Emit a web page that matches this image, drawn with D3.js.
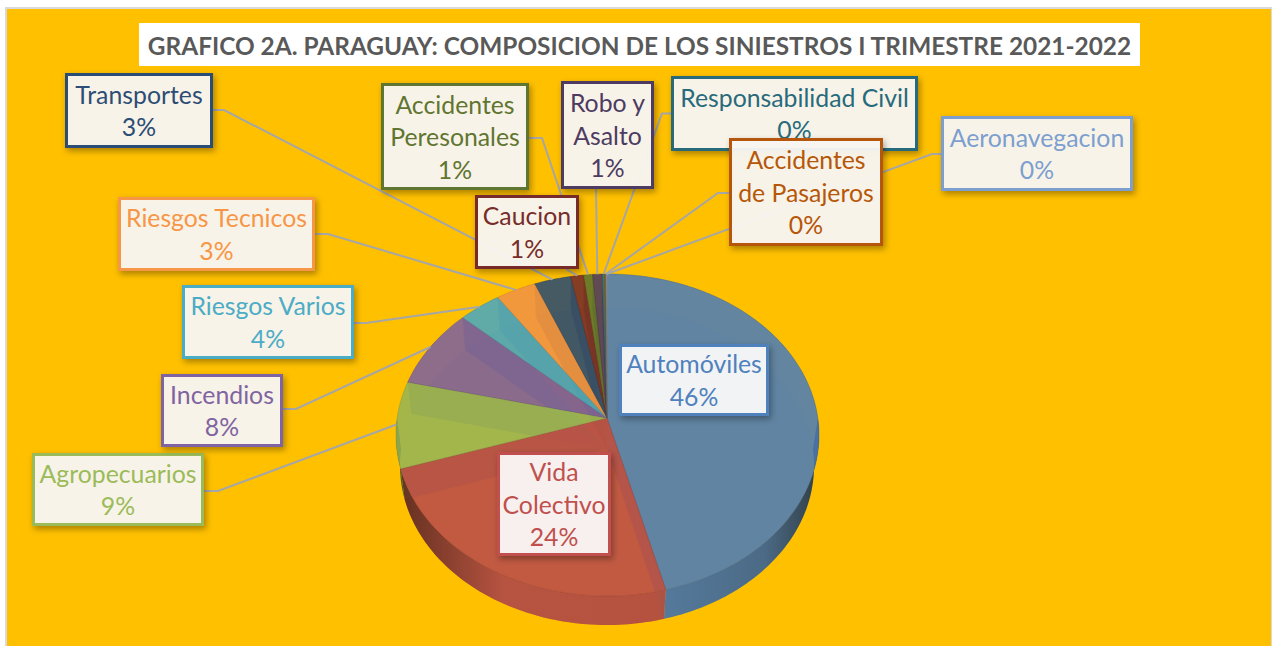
<!DOCTYPE html>
<html><head><meta charset="utf-8">
<script src="https://cdn.jsdelivr.net/npm/d3@7/dist/d3.min.js"></script>
<style>html,body{margin:0;padding:0;background:#fff;overflow:hidden}svg{display:block}</style>
</head><body><svg id="c" width="1272" height="646"></svg>
<script>
const title = "GRAFICO 2A. PARAGUAY: COMPOSICION DE LOS SINIESTROS I TRIMESTRE 2021-2022";
const categories = ["Automóviles","Vida Colectivo","Agropecuarios","Incendios","Riesgos Varios","Riesgos Tecnicos","Transportes","Caucion","Accidentes Peresonales","Robo y Asalto","Responsabilidad Civil","Accidentes de Pasajeros","Aeronavegacion"];
const values = [46,24,8.7,8.1,3.6,3.4,3.1,1.1,0.75,0.8,0.25,0.1,0.1];
const colors = ["#4f81bd","#c0504d","#9bbb59","#8064a2","#4bacc6","#f79646","#2c4d75","#772c2a","#5f7530","#4d3b62","#276a7c","#b65708","#7c9fd0"];
const labelLines = [["Automóviles"],["Vida","Colectivo"],["Agropecuarios"],["Incendios"],["Riesgos Varios"],["Riesgos Tecnicos"],["Transportes"],["Caucion"],["Accidentes","Peresonales"],["Robo y","Asalto"],["Responsabilidad Civil"],["Accidentes","de Pasajeros"],["Aeronavegacion"]];
// box layout [x0,y0,x1,y1] and leader start points
const boxes = [[619,344,769,416],[497,452,611,556],[32,453,204,526],[161,374,283,447],[182,285,354,359],[118,197,315,271],[65,73,213,148],[475,195,579,269],[381,83,529,190],[561,81,654,189],[671,76,918,151],[729,138,883,246],[941,116,1133,191]];
const leaders = [null,null,[[204,491],[218,491]],[[283,409],[296,409]],[[354,323],[366,323]],[[315,234],[328,234]],[[213,110],[224,110]],[[566,269]],[[529,138],[542,138]],[[596,189]],[[671,113.5],[662,113.5]],[[729,193],[718,193]],[[942,154],[932,154]]];
const drawOrder = [0,1,2,3,4,5,6,8,9,10,12,7,11];

const svg = d3.select("#c");
const defs = svg.append("defs");
const sh = defs.append("filter").attr("id","sh").attr("x","-20%").attr("y","-20%").attr("width","140%").attr("height","150%");
sh.append("feDropShadow").attr("dx",2).attr("dy",3).attr("stdDeviation",3).attr("flood-color","#000").attr("flood-opacity",0.35);

// background
svg.append("rect").attr("x",6).attr("y",8).attr("width",1266).attr("height",660).attr("fill","#FFC000").attr("stroke","#d9d9d9").attr("stroke-width",2);
svg.append("rect").attr("x",139).attr("y",23).attr("width",1001).attr("height",43).attr("fill","#fff");
svg.append("text").attr("x",639.5).attr("y",55).attr("text-anchor","middle").attr("font-family","Lato").attr("font-weight",700).attr("font-size",24.4).attr("fill","#595959").text(title);

// pie geometry: a circle seen in perspective, with its centre projected off the ellipse centre
const apex=[607,418], top_={cx:607.5,cy:435,rx:211.5,ry:161}, bot={cx:607,cy:466,rx:207,ry:159}, depth=31;
const k=(top_.cy-apex[1])/top_.ry;
const arcs = d3.pie().sort(null).value(d=>d)(values);
const rim=(e,a)=>{
  const x=Math.sin(a), y=Math.cos(a), w=1+k*y;
  const px=x*Math.sqrt(1-k*k)/w, py=(y+k)/w;
  return [e.cx+e.rx*px, e.cy-e.ry*py];
};
const samples=(a0,a1)=>{const n=Math.max(2,Math.ceil((a1-a0)/0.02));return d3.range(n+1).map(i=>a0+(a1-a0)*i/n);};
const line=d3.line();
const wedge=(e,ax,a)=>line([ax,...samples(a.startAngle,a.endAngle).map(t=>rim(e,t))])+"Z";
const g=svg.append("g");
const apexB=[apex[0],apex[1]+depth];

// side wall gradients and per-slice clips
colors.forEach((c,i)=>{
  const lg=defs.append("linearGradient").attr("id","w"+i).attr("gradientUnits","userSpaceOnUse").attr("x1",400).attr("x2",815).attr("y1",0).attr("y2",0);
  const col=d3.color(c);
  lg.append("stop").attr("offset",0).attr("stop-color",col.darker(2.4));
  lg.append("stop").attr("offset",0.25).attr("stop-color",col.darker(0.25));
  lg.append("stop").attr("offset",0.62).attr("stop-color",col.darker(0.3));
  lg.append("stop").attr("offset",0.88).attr("stop-color",col.darker(0.8));
  lg.append("stop").attr("offset",1).attr("stop-color",col.darker(2.6));
  defs.append("clipPath").attr("id","s"+i).append("path").attr("d",wedge(top_,apex,arcs[i]));
});

// bottom faces
g.selectAll("path.bottom").data(arcs).join("path").attr("class","bottom").attr("d",d=>wedge(bot,apexB,d)).attr("fill",(d,i)=>colors[i]).attr("fill-opacity",0.35);
// back outer walls (seen through the top)
arcs.forEach((a,i)=>{
  const back=[[a.startAngle,Math.min(a.endAngle,Math.PI/2)],[Math.max(a.startAngle,3*Math.PI/2),a.endAngle]];
  back.forEach(([s,e])=>{ if(e>s){
    const t=samples(s,e);
    g.append("path").attr("d",line([...t.map(x=>rim(top_,x)),...t.slice().reverse().map(x=>rim(bot,x))])+"Z").attr("fill",colors[i]).attr("fill-opacity",0.25);
  }});
});
// front outer walls
arcs.forEach((a,i)=>{
  const s=Math.max(a.startAngle,Math.PI/2), e=Math.min(a.endAngle,3*Math.PI/2);
  if(e>s){
    const t=samples(s,e);
    g.append("path").attr("d",line([...t.map(x=>rim(top_,x)),...t.slice().reverse().map(x=>rim(bot,x))])+"Z").attr("fill",`url(#w${i})`).attr("fill-opacity",0.88);
  }
});
// top faces
g.selectAll("path.top").data(arcs).join("path").attr("class","top").attr("d",d=>wedge(top_,apex,d)).attr("fill",(d,i)=>d3.color(colors[i]).darker(0.1)).attr("fill-opacity",0.83).attr("stroke",(d,i)=>d3.color(colors[i]).darker(0.7)).attr("stroke-opacity",0.5).attr("stroke-width",0.8);
// radial walls, showing through the translucent top and kept inside their own slice:
// each left-hand slice shows the wall of its closing edge; Vida also the one toward Automóviles
arcs.forEach((a,i)=>{
  if(i===0) return;
  const edges = i===1 ? [a.startAngle,a.endAngle] : [a.endAngle];
  edges.forEach(edge=>{
    g.append("path").attr("clip-path",`url(#s${i})`).attr("d",line([apex,rim(top_,edge),rim(bot,edge),apexB])+"Z").attr("fill",d3.color(colors[i]).darker(0.25)).attr("fill-opacity",0.45);
  });
});

// leader lines
const lg=svg.append("g");
leaders.forEach((l,i)=>{
  if(!l) return;
  const m=(arcs[i].startAngle+arcs[i].endAngle)/2;
  lg.append("path").attr("d",line([...l,rim(top_,m)])).attr("fill","none").attr("stroke","#a6a6a6").attr("stroke-width",2);
});

// labels
const pct=d3.format(".0f");
drawOrder.forEach(i=>{
  const [x0,y0,x1,y1]=boxes[i];
  const b=svg.append("g");
  const inPie=i<2;
  b.append("rect").attr("x",x0+1.5).attr("y",y0+1.5).attr("width",x1-x0-3).attr("height",y1-y0-3)
    .attr("fill",inPie?"#fff":"#faf8f3").attr("fill-opacity",inPie?0.9:0.94).attr("stroke",colors[i]).attr("stroke-width",3).attr("filter","url(#sh)");
  const lines=[...labelLines[i],pct(values[i])+"%"];
  const lh=32.5, cx=(x0+x1)/2, cy=(y0+y1)/2;
  lines.forEach((s,j)=>{
    b.append("text").attr("x",cx).attr("y",cy+(j-(lines.length-1)/2)*lh+9.5).attr("text-anchor","middle").attr("font-family","Lato").attr("font-size",24.8).attr("fill",colors[i]).text(s);
  });
});
</script></body></html>
